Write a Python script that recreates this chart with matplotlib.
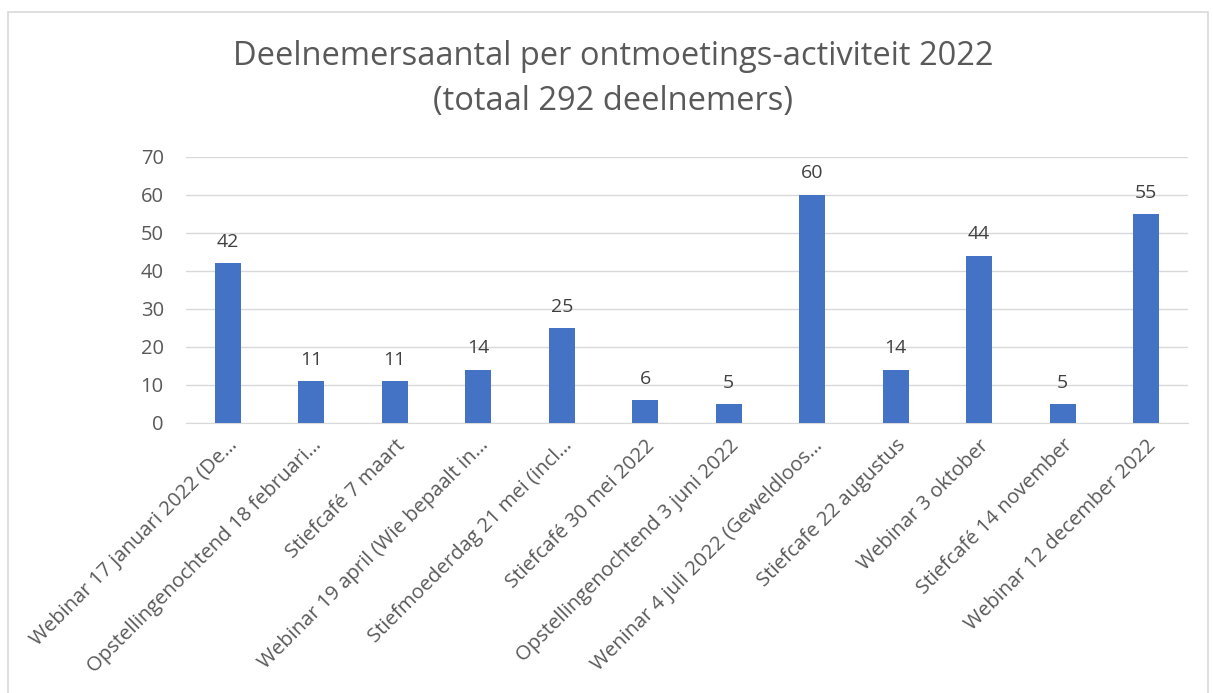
import matplotlib
matplotlib.use("Agg")
import matplotlib.pyplot as plt
from matplotlib.patches import Rectangle

categories = [
    "Webinar 17 januari 2022 (De…",
    "Opstellingenochtend 18 februari…",
    "Stiefcafé 7 maart",
    "Webinar 19 april (Wie bepaalt in…",
    "Stiefmoederdag 21 mei (incl…",
    "Stiefcafé 30 mei 2022",
    "Opstellingenochtend 3 juni 2022",
    "Weninar 4 juli 2022 (Geweldloos…",
    "Stiefcafe 22 augustus",
    "Webinar 3 oktober",
    "Stiefcafé 14 november",
    "Webinar 12 december 2022",
]
values = [42, 11, 11, 14, 25, 6, 5, 60, 14, 44, 5, 55]
yticks = [0, 10, 20, 30, 40, 50, 60, 70]
title = "Deelnemersaantal per ontmoetings-activiteit 2022\n(totaal 292 deelnemers)"

plt.rcParams['font.family'] = ['Open Sans', 'DejaVu Sans']
W, H = 1213, 693
fig = plt.figure(figsize=(W/100, H/100), dpi=100)
fig.patches.append(Rectangle((8/W, -0.01), (1208-8)/W, (H-12)/H + 0.01, transform=fig.transFigure,
                             fill=False, edgecolor='#d9d9d9', linewidth=1.2))

ax = fig.add_axes([186/W, (H-423)/H, (1188-186)/W, (423-157)/H])
x = list(range(len(values)))
ax.bar(x, values, width=0.31, color='#4472C4', zorder=3)
ax.set_xlim(-0.5, len(values)-0.5)
ax.set_ylim(0, 70)
ax.set_yticks(yticks)
ax.grid(axis='y', color='#d9d9d9', linewidth=1, zorder=0)
for s in ['top', 'right', 'left']:
    ax.spines[s].set_visible(False)
ax.spines['bottom'].set_color('#d9d9d9')
ax.tick_params(axis='both', length=0, colors='#595959')
ax.tick_params(axis='y', pad=16, labelsize=14.5)
ax.set_xticks(x)
ax.set_xticklabels(categories, rotation=45, ha='right', rotation_mode='anchor', va='top',
                   fontsize=14.6)
for lab in ax.get_xticklabels():
    lab.set_color('#595959')
ax.tick_params(axis='x', pad=9)
for xi, v in zip(x, values):
    ax.annotate(str(v), (xi, v), xytext=(0, 9), textcoords='offset points',
                ha='center', va='bottom', fontsize=14, color='#404040')
fig.text(613/W, (H-79)/H, title, ha='center', va='center', fontsize=23.5, color='#595959',
         linespacing=1.45)
fig.savefig('out.png', dpi=100)
